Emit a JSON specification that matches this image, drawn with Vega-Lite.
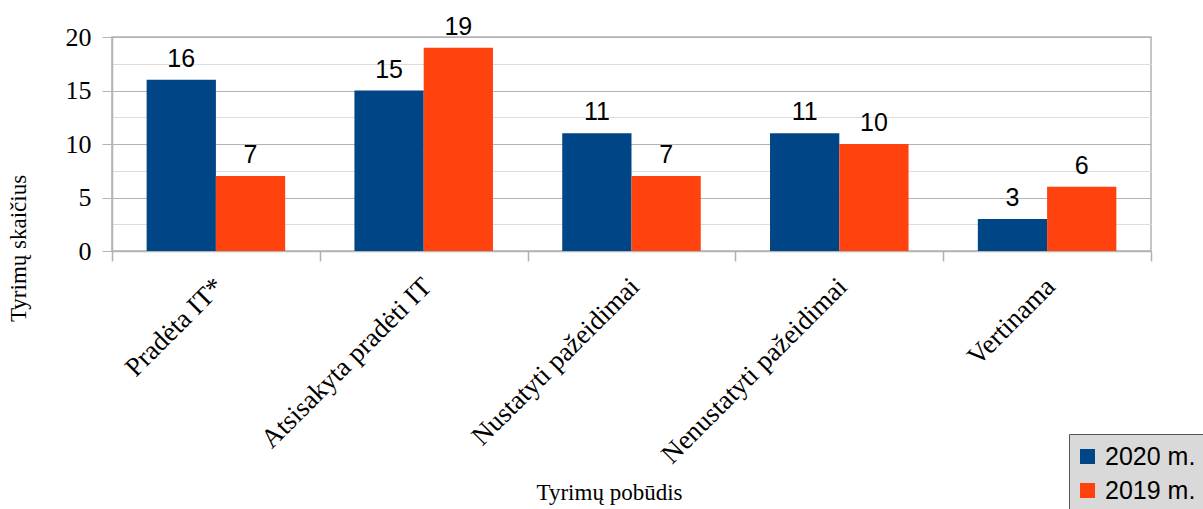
{
  "$schema": "https://vega.github.io/schema/vega-lite/v6.json",
  "width": 1039,
  "height": 214,
  "autosize": "none",
  "padding": {"left": 112, "top": 37, "right": 52, "bottom": 258},
  "background": "white",
  "data": {
    "values": [
      {"kategorija": "Pradėta IT*", "metai": "2020 m.", "skaicius": 16},
      {"kategorija": "Pradėta IT*", "metai": "2019 m.", "skaicius": 7},
      {"kategorija": "Atsisakyta pradėti IT", "metai": "2020 m.", "skaicius": 15},
      {"kategorija": "Atsisakyta pradėti IT", "metai": "2019 m.", "skaicius": 19},
      {"kategorija": "Nustatyti pažeidimai", "metai": "2020 m.", "skaicius": 11},
      {"kategorija": "Nustatyti pažeidimai", "metai": "2019 m.", "skaicius": 7},
      {"kategorija": "Nenustatyti pažeidimai", "metai": "2020 m.", "skaicius": 11},
      {"kategorija": "Nenustatyti pažeidimai", "metai": "2019 m.", "skaicius": 10},
      {"kategorija": "Vertinama", "metai": "2020 m.", "skaicius": 3},
      {"kategorija": "Vertinama", "metai": "2019 m.", "skaicius": 6}
    ]
  },
  "encoding": {
    "x": {
      "field": "kategorija",
      "type": "nominal",
      "sort": null,
      "scale": {"paddingInner": 0, "paddingOuter": 0},
      "axis": {
        "title": "Tyrimų pobūdis",
        "titleFont": "Liberation Serif",
        "titleFontSize": 23,
        "titleFontWeight": "normal",
        "titleColor": "black",
        "titleX": 497,
        "titleY": 248,
        "titleAlign": "center",
        "titleBaseline": "alphabetic",
        "labelFont": "Liberation Serif",
        "labelFontSize": 27,
        "labelColor": "black",
        "labelAngle": -45,
        "labelLimit": 0,
        "labelPadding": 12,
        "labelOffset": -6,
        "tickBand": "extent",
        "tickSize": 10,
        "tickColor": "#b3b3b3",
        "tickWidth": 1.5,
        "domainColor": "#b3b3b3",
        "domainWidth": 1.5,
        "grid": false
      }
    },
    "xOffset": {
      "field": "metai",
      "type": "nominal",
      "sort": ["2020 m.", "2019 m."],
      "scale": {"paddingInner": 0, "paddingOuter": 0.5}
    },
    "y": {
      "field": "skaicius",
      "type": "quantitative",
      "scale": {"domain": [0, 20], "nice": false},
      "axis": {
        "title": "Tyrimų skaičius",
        "titleFont": "Liberation Serif",
        "titleFontSize": 23,
        "titleFontWeight": "normal",
        "titleColor": "black",
        "titleX": -87,
        "titleY": 211,
        "titleAlign": "center",
        "titleBaseline": "alphabetic",
        "values": [0, 2.5, 5, 7.5, 10, 12.5, 15, 17.5, 20],
        "labelExpr": "datum.value % 5 === 0 ? datum.label : ''",
        "labelFont": "Liberation Serif",
        "labelFontSize": 26,
        "labelColor": "black",
        "labelPadding": 11,
        "tickSize": 10,
        "tickColor": {"condition": {"test": "datum.value % 5 === 0", "value": "#b3b3b3"}, "value": "transparent"},
        "gridColor": {"condition": {"test": "datum.value % 5 === 0", "value": "#b3b3b3"}, "value": "#dddddd"},
        "gridWidth": 1.2,
        "domainColor": "#b3b3b3",
        "domainWidth": 1.5
      }
    }
  },
  "layer": [
    {
      "mark": {"type": "bar"},
      "encoding": {
        "color": {
          "field": "metai",
          "type": "nominal",
          "scale": {"domain": ["2020 m.", "2019 m."], "range": ["#004586", "#ff420e"]},
          "legend": {
            "title": null,
            "orient": "none",
            "legendX": 957,
            "legendY": 397,
            "fillColor": "#d9d9d9",
            "strokeColor": "#555555",
            "padding": 10,
            "symbolType": "square",
            "symbolSize": 225,
            "symbolStrokeWidth": 0,
            "symbolOffset": -4,
            "labelFont": "Liberation Sans",
            "labelFontSize": 25,
            "labelColor": "black",
            "labelOffset": 5,
            "rowPadding": 8
          }
        }
      }
    },
    {
      "mark": {"type": "text", "baseline": "bottom", "dy": -8, "font": "Liberation Sans", "fontSize": 25, "color": "black"},
      "encoding": {
        "text": {"field": "skaicius", "type": "quantitative"}
      }
    }
  ],
  "config": {
    "view": {"stroke": "#b3b3b3", "strokeWidth": 1.5}
  }
}
